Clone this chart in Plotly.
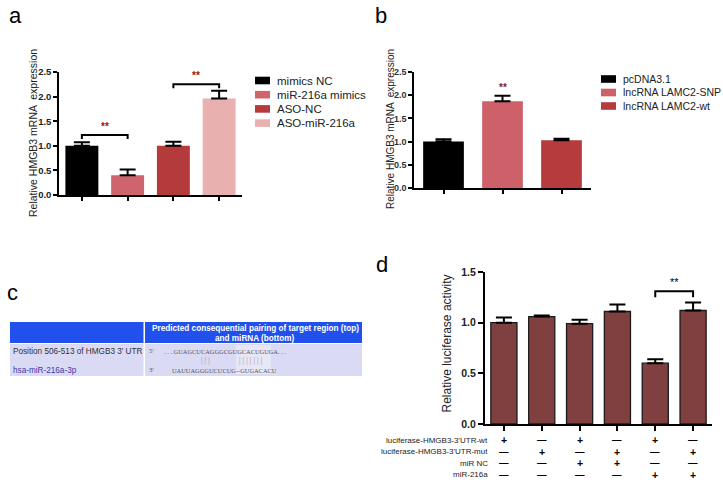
import plotly.graph_objects as go

W, H = 723, 489

# ---- panel a data ----
a_groups = ["mimics NC", "miR-216a mimics", "ASO-NC", "ASO-miR-216a"]
a_values = [1.0, 0.40, 1.0, 1.96]
a_errors = [0.07, 0.12, 0.08, 0.16]
a_colors = ["#000000", "#D0646C", "#B53A3C", "#E9B0B0"]
a_brackets = [(0, 1, 1.22), (2, 3, 2.25)]

# ---- panel b data ----
b_groups = ["pcDNA3.1", "lncRNA LAMC2-SNP", "lncRNA LAMC2-wt"]
b_values = [1.0, 1.87, 1.03]
b_errors = [0.05, 0.12, 0.03]
b_colors = ["#000000", "#CD6068", "#B53B3D"]
b_star_bar = 1

# ---- panel c table ----
c_header = ["", "Predicted consequential pairing of target region (top)", "and miRNA (bottom)"]
c_labels = ["Position 506-513 of HMGB3 3' UTR", "hsa-miR-216a-3p"]
c_label_colors = ["#333333", "#3A3AA8"]
c_ends = ["5'", "3'"]
c_seqs = [". . . GUAGCUCAGGGCGUGCACUGUGA. . .", "UAUUAGGGUCUCUG--GUGACACU"]
c_pairs = ["|||", "|||||||"]

# ---- panel d data ----
d_values = [1.0, 1.06, 0.99, 1.11, 0.60, 1.12]
d_errors = [0.05, 0.01, 0.04, 0.07, 0.04, 0.08]
d_rows = ["luciferase-HMGB3-3'UTR-wt", "luciferase-HMGB3-3'UTR-mut", "miR NC", "miR-216a"]
d_signs = [
    ["+", "-", "+", "-", "+", "-"],
    ["-", "+", "-", "+", "-", "+"],
    ["-", "-", "+", "+", "-", "-"],
    ["-", "-", "-", "-", "+", "+"],
]
d_bracket = (4, 5, 1.31)


def px(x):
    return x / W


def py(y):
    return (H - y) / H


fig = go.Figure()

for i, (g, v, e, c) in enumerate(zip(a_groups, a_values, a_errors, a_colors)):
    fig.add_trace(go.Bar(x=[i], y=[v], name=g, width=0.72, marker_color=c,
                         marker_line_width=0, xaxis="x", yaxis="y", showlegend=False,
                         error_y=dict(type="data", array=[e], arrayminus=[0], symmetric=False,
                                      color="black", thickness=2, width=8)))

for i, (g, v, e, c) in enumerate(zip(b_groups, b_values, b_errors, b_colors)):
    fig.add_trace(go.Bar(x=[i], y=[v], name=g, width=0.69, marker_color=c,
                         marker_line_width=0, xaxis="x2", yaxis="y2", showlegend=False,
                         error_y=dict(type="data", array=[e], arrayminus=[0], symmetric=False,
                                      color="black", thickness=2, width=8)))

fig.add_trace(go.Bar(x=list(range(len(d_values))), y=d_values, width=0.69,
                     marker=dict(color="#80403F", line=dict(color="#1a1a1a", width=1.3)),
                     showlegend=False, xaxis="x3", yaxis="y3",
                     error_y=dict(type="data", array=d_errors, arrayminus=[0] * len(d_errors),
                                  symmetric=False, color="black", thickness=2, width=8)))

shapes = []
annotations = []


def note(x, y, text, size, color="black", xanchor="center", xref="paper", yref="paper",
         family="Arial", bold=False, yanchor="middle", angle=0):
    annotations.append(dict(x=x, y=y, xref=xref, yref=yref, text=text, showarrow=False,
                            xanchor=xanchor, yanchor=yanchor, textangle=angle,
                            font=dict(family=family, size=size, color=color,
                                      weight="bold" if bold else "normal")))


def bracket(xr, yr, x0, x1, y, drop):
    shapes.append(dict(type="path", xref=xr, yref=yr,
                       path=f"M {x0},{y - drop} L {x0},{y} L {x1},{y} L {x1},{y - drop}",
                       line=dict(color="black", width=2)))


# legends drawn by hand (plotly's minimum row height is too tall here)
def legend(names, colors, x, y0, step, size):
    for k, (n, c) in enumerate(zip(names, colors)):
        yc = y0 + k * step
        shapes.append(dict(type="rect", xref="paper", yref="paper",
                           x0=px(x), x1=px(x + 15), y0=py(yc + 3.8), y1=py(yc - 3.8),
                           fillcolor=c, line_width=0))
        note(px(x + 20), py(yc), n, size, color="#222222", xanchor="left")


legend(a_groups, a_colors, 255, 80.5, 14.2, 11.5)
legend(b_groups, b_colors, 601, 79, 13.5, 10.5)

# y-axis titles
note(px(33), py(133), "Relative HMGB3 mRNA  expression", 10.5, color="#222222", angle=-90)
note(px(390), py(129), "Relative HMGB3 mRNA  expression", 10, color="#222222", angle=-90)
note(px(446.5), py(344), "Relative luciferase activity", 12, color="#222222", angle=-90)

for x0, x1, y in a_brackets:
    bracket("x", "y", x0, x1, y, 0.08)
    note((x0 + x1) / 2, y + 0.03, "**", 10, color="#8B1A1A", xref="x", yref="y",
         yanchor="bottom", bold=True)

note(b_star_bar, b_values[b_star_bar] + b_errors[b_star_bar] + 0.02, "**", 10,
     color="#8B1A1A", xref="x2", yref="y2", yanchor="bottom", bold=True)

x0, x1, y = d_bracket
bracket("x3", "y3", x0, x1, y, 0.06)
note((x0 + x1) / 2, y + 0.015, "**", 11, xref="x3", yref="y3", yanchor="bottom")

# panel d condition rows
row_y = [440, 451.5, 463, 474.5]
for r, label in enumerate(d_rows):
    note(px(490), py(row_y[r]), label, 8, color="#222222", xanchor="right")
    for j, s in enumerate(d_signs[r]):
        if s == "+":
            note(j, py(row_y[r]), "+", 10.5, xref="x3", bold=True)
        else:
            note(j, py(row_y[r] - 0.5), "\u2014", 9.5, xref="x3", bold=True)

# panel c table
tx0, tx1, tx2 = 10, 144, 362
hy0, hy1, by1 = 322, 343, 376
shapes += [
    dict(type="rect", xref="paper", yref="paper", x0=px(tx0), x1=px(tx1 - 0.5),
         y0=py(hy1), y1=py(hy0), fillcolor="#2150EC", line_width=0),
    dict(type="rect", xref="paper", yref="paper", x0=px(tx1 + 1), x1=px(tx2),
         y0=py(hy1), y1=py(hy0), fillcolor="#2150EC", line_width=0),
    dict(type="rect", xref="paper", yref="paper", x0=px(tx0), x1=px(tx1 - 0.5),
         y0=py(by1), y1=py(hy1 + 1), fillcolor="#DADAF4", line_width=0),
    dict(type="rect", xref="paper", yref="paper", x0=px(tx1 + 1), x1=px(tx2),
         y0=py(by1), y1=py(hy1 + 1), fillcolor="#DADAF4", line_width=0),
    dict(type="rect", xref="paper", yref="paper", x0=px(236), x1=px(271),
         y0=py(374), y1=py(345), fillcolor="#E6E6F7", line_width=0),
]
note(px((tx1 + tx2) / 2 + 2), py(328), c_header[1], 8.2, color="white", bold=True)
note(px((tx1 + tx2) / 2 + 2), py(338.5), c_header[2], 8.2, color="white", bold=True)
seq_rows = [351, 370]
for r in range(2):
    note(px(11), py(seq_rows[r]), c_labels[r], 8.2, color=c_label_colors[r], xanchor="left")
    note(px(147), py(seq_rows[r]), c_ends[r], 7, color="#555555", xanchor="left",
         family="Liberation Serif")
note(px(162), py(seq_rows[0]), c_seqs[0], 6.4, color="#555555", xanchor="left",
     family="Liberation Serif")
note(px(170), py(seq_rows[1]), c_seqs[1], 6.4, color="#555555", xanchor="left",
     family="Liberation Serif")
note(px(205), py(360.5), "\u00a0".join(c_pairs[0]), 8, color="#999999",
     family="Liberation Serif")
note(px(250.5), py(360.5), "\u00a0".join(c_pairs[1]), 8, color="#999999",
     family="Liberation Serif")

for letter, lx, ly in [("a", 15, 16), ("b", 381, 16), ("c", 12, 292), ("d", 382, 264)]:
    note(px(lx), py(ly), letter, 22)

axis_common = dict(showline=True, linecolor="black", showgrid=False, zeroline=False,
                   ticks="outside", tickcolor="black", automargin=False)

fig.update_layout(
    width=W, height=H, autosize=False,
    margin=dict(l=0, r=0, t=0, b=0, autoexpand=False),
    paper_bgcolor="white", plot_bgcolor="white",
    barmode="overlay",
    font=dict(family="Arial", color="black"),
    xaxis=dict(domain=[px(59), px(242)], range=[-0.5, 3.5], tickvals=[0, 1, 2, 3],
               showticklabels=False, linewidth=1.5, ticklen=4, tickwidth=1.5, anchor="y",
               **axis_common),
    yaxis=dict(domain=[py(195), py(72)], range=[0, 2.5], dtick=0.5, tickformat=".1f",
               linewidth=1.5, ticklen=4, tickwidth=1.5, anchor="x",
               tickfont=dict(size=9.5, weight="bold", color="#222222"), **axis_common),
    xaxis2=dict(domain=[px(414), px(591)], range=[-0.5, 2.5], tickvals=[0, 1, 2],
                showticklabels=False, linewidth=1.5, ticklen=4, tickwidth=1.5, anchor="y2",
                **axis_common),
    yaxis2=dict(domain=[py(188), py(72)], range=[0, 2.5], dtick=0.5, tickformat=".1f",
                linewidth=1.5, ticklen=4, tickwidth=1.5, anchor="x2",
                tickfont=dict(size=9, weight="bold", color="#333333"), **axis_common),
    xaxis3=dict(domain=[px(485), px(712)], range=[-0.5, 5.5], tickvals=list(range(6)),
                showticklabels=False, linewidth=2, ticklen=5, tickwidth=2, anchor="y3",
                **axis_common),
    yaxis3=dict(domain=[py(424), py(272)], range=[0, 1.5], dtick=0.5, tickformat=".1f",
                linewidth=2, ticklen=5, tickwidth=2, anchor="x3",
                tickfont=dict(size=10.5, weight="bold", color="#222222"), **axis_common),
    shapes=shapes,
    annotations=annotations,
)

# page body has an 8px default margin; drop it so the figure sits at the window origin
fig.write_html("out.html", config={"displayModeBar": False},
               post_script="document.body.style.margin='0';")
